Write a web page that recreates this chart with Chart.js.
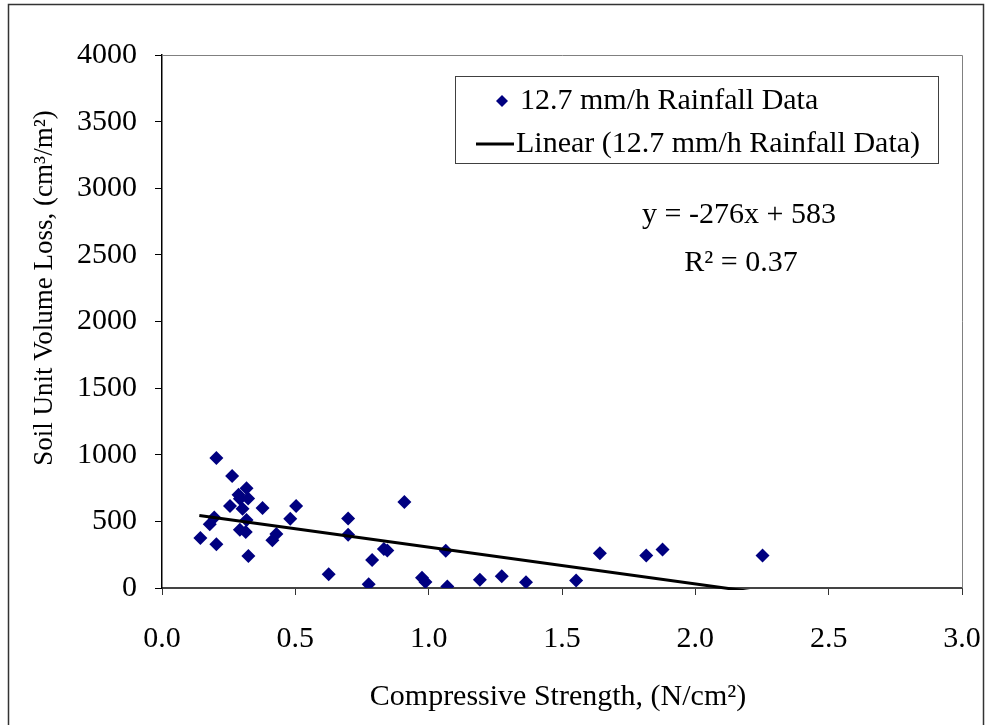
<!DOCTYPE html>
<html>
<head>
<meta charset="utf-8">
<script src="https://cdn.jsdelivr.net/npm/chart.js@4.4.1/dist/chart.umd.min.js"></script>
<style>
  html, body { margin: 0; padding: 0; background: #ffffff; }
  #wrap { width: 987px; height: 725px; }
</style>
</head>
<body>
<div id="wrap"><canvas id="c" width="987" height="725"></canvas></div>
<script>
// ---- data ----
const strengthX = [0.204, 0.263, 0.317, 0.287, 0.323, 0.292, 0.255, 0.302, 0.377, 0.503,
                   0.196, 0.317, 0.481, 0.698, 0.179, 0.292, 0.314, 0.429, 0.414, 0.698,
                   0.144, 0.204, 0.324, 0.909, 0.832, 0.845, 0.788, 0.625, 0.775, 0.975,
                   0.988, 1.064, 1.070, 1.192, 1.274, 1.365, 1.553, 1.642, 1.816, 1.877, 2.252];
const volumeLossY = [975, 840, 748, 700, 672, 670, 615, 595, 600, 615,
                     530, 510, 520, 522, 478, 438, 420, 406, 358, 400,
                     375, 328, 240, 645, 292, 282, 211, 104, 28, 77,
                     45, 280, 12, 62, 88, 44, 57, 260, 244, 288, 244];
const trendX = [0.140, 2.252];
const trendY = [544, -39];
const xTicks = [0.0, 0.5, 1.0, 1.5, 2.0, 2.5, 3.0];
const yTicks = [0, 500, 1000, 1500, 2000, 2500, 3000, 3500, 4000];
const seriesName = "12.7 mm/h Rainfall Data";
const trendName = "Linear (12.7 mm/h Rainfall Data)";
const equationText = "y = -276x + 583";
const r2Text = "R\u00B2 = 0.37";
const xTitle = "Compressive Strength, (N/cm\u00B2)";
const yTitle = "Soil Unit Volume Loss, (cm\u00B3/m\u00B2)";

const FONT = "'Liberation Serif', 'Times New Roman', serif";
const NAVY = "#000080";

const scatterPts = strengthX.map((x, i) => ({ x: x, y: volumeLossY[i] }));
const trendPts = trendX.map((x, i) => ({ x: x, y: trendY[i] }));

const decor = {
  id: 'decor',
  beforeDatasetsDraw(chart) {
    const ctx = chart.ctx, a = chart.chartArea;
    ctx.save();
    ctx.strokeStyle = '#808080';
    ctx.lineWidth = 1;
    ctx.beginPath();
    ctx.moveTo(a.left, a.top + 0.5);
    ctx.lineTo(a.right + 0.5, a.top + 0.5);
    ctx.lineTo(a.right + 0.5, a.bottom);
    ctx.stroke();
    ctx.restore();
  },
  afterDraw(chart) {
    const ctx = chart.ctx;
    ctx.save();
    ctx.strokeStyle = '#333333';
    ctx.lineWidth = 1.5;
    ctx.strokeRect(8.5, 4.5, 975, 740);

    ctx.fillStyle = '#000';
    ctx.font = '30px ' + FONT;
    ctx.textAlign = 'center';
    ctx.textBaseline = 'middle';
    ctx.fillText(xTitle, 558, 697);
    ctx.save();
    ctx.translate(45, 288);
    ctx.rotate(-Math.PI / 2);
    ctx.font = '27px ' + FONT;
    ctx.fillText(yTitle, 0, 0);
    ctx.restore();

    ctx.fillText(equationText, 739, 215);
    ctx.fillText(r2Text, 741, 263);

    ctx.strokeStyle = '#404040';
    ctx.lineWidth = 1;
    ctx.strokeRect(455.5, 76.5, 483, 87);
    ctx.fillStyle = NAVY;
    ctx.beginPath();
    ctx.moveTo(502, 95); ctx.lineTo(508, 101); ctx.lineTo(502, 107); ctx.lineTo(496, 101);
    ctx.closePath(); ctx.fill();
    ctx.strokeStyle = '#000';
    ctx.lineWidth = 3;
    ctx.beginPath(); ctx.moveTo(476, 144); ctx.lineTo(514, 144); ctx.stroke();
    ctx.fillStyle = '#000';
    ctx.textAlign = 'left';
    ctx.fillText(seriesName, 520, 101);
    ctx.fillText(trendName, 516, 144);
    ctx.restore();
  }
};

new Chart(document.getElementById('c'), {
  type: 'scatter',
  data: {
    datasets: [
      {
        label: seriesName,
        data: scatterPts,
        pointStyle: 'rectRot',
        pointRadius: 7,
        pointHoverRadius: 7,
        backgroundColor: NAVY,
        borderColor: NAVY,
        borderWidth: 0,
        showLine: false,
        order: 2
      },
      {
        label: trendName,
        data: trendPts,
        type: 'line',
        showLine: true,
        borderColor: '#000',
        borderWidth: 3,
        pointRadius: 0,
        fill: false,
        clip: { left: 5, top: 5, right: 5, bottom: 2 },
        order: 1
      }
    ]
  },
  options: {
    responsive: false,
    animation: false,
    events: [],
    layout: { padding: { top: 55, right: 25, left: 0, bottom: 0 } },
    plugins: { legend: { display: false }, tooltip: { enabled: false } },
    scales: {
      x: {
        type: 'linear',
        min: 0, max: 3,
        afterFit(s) { s.height = 137; s.paddingRight = 0; s.paddingLeft = 0; },
        afterBuildTicks(s) { s.ticks = xTicks.map(v => ({ value: v })); },
        grid: { drawOnChartArea: false, color: '#333', tickLength: 7, tickWidth: 1 },
        border: { color: '#444', width: 2 },
        ticks: {
          color: '#000', padding: 26,
          font: { family: FONT, size: 30 },
          callback: v => Number(v).toFixed(1)
        }
      },
      y: {
        type: 'linear',
        min: 0, max: 4000,
        afterFit(s) { s.width = 162; s.paddingTop = 0; s.paddingBottom = 0; },
        afterBuildTicks(s) { s.ticks = yTicks.map(v => ({ value: v })); },
        grid: { drawOnChartArea: false, color: '#000', tickLength: 7, tickWidth: 1 },
        border: { color: '#000', width: 1.5 },
        ticks: {
          color: '#000', padding: 18,
          font: { family: FONT, size: 30 },
          callback: v => String(v)
        }
      }
    }
  },
  plugins: [decor]
});
</script>
</body>
</html>
